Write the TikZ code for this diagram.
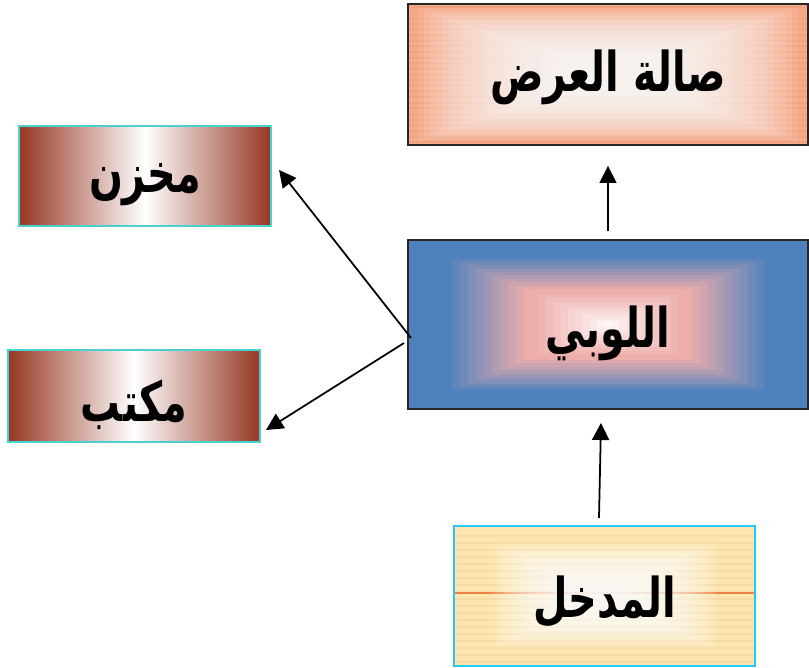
\documentclass[tikz,border=0pt]{standalone}
\usepackage{fontspec}
\newfontfamily\arabicfont[Script=Arabic]{DejaVu Sans}
\TeXXeTstate=1
\usetikzlibrary{positioning,calc,arrows.meta}
\definecolor{salmonc}{RGB}{247,170,136}
\definecolor{lobbyblue}{RGB}{79,129,189}
\definecolor{lobbypink}{RGB}{238,174,170}
\definecolor{entryyellow}{RGB}{252,229,174}
\definecolor{entryline}{RGB}{240,130,70}
\definecolor{roombrown}{RGB}{150,55,35}
\definecolor{roomedge}{RGB}{75,208,208}
\definecolor{entryedge}{RGB}{40,200,245}
\newcommand{\roomname}[2][0.18cm]{\raisebox{-#1}[\height][\depth]{\scalebox{0.87}[1.2]{\beginR #2\endR}}}

\begin{document}
\begin{tikzpicture}[
    label font/.style={font=\arabicfont\bfseries\fontsize{26}{30}\selectfont},
    room/.style={draw=roomedge, line width=1.2pt, minimum width=5.04cm, label font,
        left color=roombrown, right color=roombrown, middle color=white},
    arr/.style={-{Triangle[length=3.4mm,width=3.4mm]}, line width=1pt}]
    \useasboundingbox (0,0) rectangle (16.18,13.36);

    % Showroom
    \node[draw=black!85, line width=1.1pt, fill=salmonc, minimum width=8cm, minimum height=2.82cm, label font,
        path picture={
            \coordinate (sw) at (path picture bounding box.south west);
            \coordinate (ne) at (path picture bounding box.north east);
            \coordinate (c) at (path picture bounding box.center);
            \foreach \y in {0.02,0.06,...,0.98}
                \draw[salmonc!80!black, opacity=0.18] ($(sw)!\y!(sw|-ne)$) -- ($(sw-|ne)!\y!(ne)$);
            \foreach \t in {0.05,0.08,...,0.78}
                \fill[white, opacity=0.09] ($(sw)!\t!(c)$) rectangle ($(ne)!\t!(c)$);
        }] (show) at (12.16,11.87) {\roomname[0.06cm]{صالة العرض}};

    % Lobby
    \node[draw=black!85, line width=1.1pt, fill=lobbyblue, minimum width=8cm, minimum height=3.38cm, label font,
        path picture={
            \coordinate (sw) at (path picture bounding box.south west);
            \coordinate (ne) at (path picture bounding box.north east);
            \coordinate (c) at (path picture bounding box.center);
            \foreach \i [evaluate=\i as \p using int(\i*10), evaluate=\i as \t using 0.18+\i*0.04] in {0,...,10}
                \fill[lobbypink!\p!lobbyblue] ($(sw)!\t!(c)$) rectangle ($(ne)!\t!(c)$);
            \foreach \i [evaluate=\i as \p using int(\i*9), evaluate=\i as \t using 0.62+\i*0.036] in {1,...,10}
                \fill[white!\p!lobbypink] ($(sw)!\t!(c)$) rectangle ($(ne)!\t!(c)$);
        }] (lobby) at (12.16,6.87) {\roomname{اللوبي}};

    % Entrance
    \node[draw=entryedge, line width=1.2pt, fill=entryyellow, minimum width=6.02cm, minimum height=2.8cm, label font,
        path picture={
            \coordinate (sw) at (path picture bounding box.south west);
            \coordinate (ne) at (path picture bounding box.north east);
            \coordinate (c) at (path picture bounding box.center);
            \foreach \y in {0.03,0.08,...,0.98}
                \draw[entryyellow!75!brown, opacity=0.4] ($(sw)!\y!(sw|-ne)$) -- ($(sw-|ne)!\y!(ne)$);
            \draw[entryline, line width=0.8pt] ([yshift=0.06cm]c-|sw) -- ([yshift=0.06cm]c-|ne);
            \foreach \t in {0.25,0.28,...,0.94}
                \fill[white, opacity=0.1] ($(sw)!\t!(c)$) rectangle ($(ne)!\t!(c)$);
        }] (entry) at (12.09,1.44) {\roomname[0.12cm]{المدخل}};

    % Store and office
    \node[room, minimum height=2cm] (store) at (2.90,9.84) {\roomname{مخزن}};
    \node[room, minimum height=1.84cm] (office) at (2.68,5.44) {\roomname{مكتب}};

    % Arrows
    \draw[arr] ([yshift=1.6mm]lobby.north) -- ([yshift=-4mm]show.south);
    \draw[arr] ([xshift=-1.1mm,yshift=1.4mm]entry.north) -- ([xshift=-1.4mm,yshift=-2.6mm]lobby.south);
    \draw[arr] ([xshift=0.8mm,yshift=-2.7mm]lobby.west) -- ([xshift=1.4mm,yshift=1.2mm]store.east);
    \draw[arr] ([xshift=-0.6mm,yshift=-3.7mm]lobby.west) -- ([xshift=1mm,yshift=-6.8mm]office.east);
\end{tikzpicture}
\end{document}
